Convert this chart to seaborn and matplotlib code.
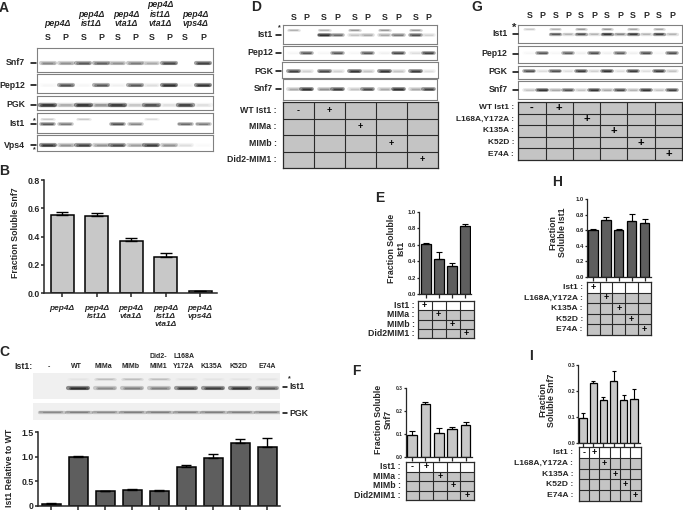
# plot.py - multi panel western blot / fraction soluble figure
import numpy as np
import pandas as pd
import seaborn as sns
import matplotlib.pyplot as plt
from matplotlib.colors import ListedColormap
from matplotlib.lines import Line2D

sns.set_style("white")
plt.rcParams["font.family"] = ["Liberation Sans", "DejaVu Sans"]
plt.rcParams["font.weight"] = "bold"
plt.rcParams["axes.labelweight"] = "bold"

W, H = 683, 512
LIGHT = "#c8c8c8"
DARK = "#5e5e5e"

# ---- bar data
b_labels = ["pep4Δ", "pep4Δ\nist1Δ", "pep4Δ\nvta1Δ", "pep4Δ\nist1Δ\nvta1Δ", "pep4Δ\nvps4Δ"]
b_vals = [0.555, 0.545, 0.37, 0.255, 0.015]
b_errs = [0.02, 0.02, 0.02, 0.028, 0.002]
c_labels = ["-", "WT", "MIMa", "MIMb", "Did2-\nMIM1", "L168A\nY172A", "K135A", "K52D", "E74A"]
c_vals = [0.04, 1.0, 0.29, 0.31, 0.30, 0.79, 0.98, 1.28, 1.19]
c_errs = [0.005, 0.005, 0.012, 0.02, 0.02, 0.04, 0.07, 0.08, 0.18]
e_vals = [0.61, 0.43, 0.345, 0.825]
e_errs = [0.005, 0.08, 0.03, 0.02]
f_vals = [0.095, 0.23, 0.105, 0.12, 0.14]
f_errs = [0.018, 0.01, 0.022, 0.012, 0.01]
h_vals = [0.605, 0.735, 0.60, 0.725, 0.695]
h_errs = [0.01, 0.03, 0.02, 0.08, 0.05]
i_vals = [0.095, 0.23, 0.165, 0.24, 0.165, 0.17]
i_errs = [0.018, 0.01, 0.012, 0.035, 0.018, 0.037]

# ---- blot band intensities per lane (0-1)
a_snf7 = [.45, .4, .7, .65, .4, .5, .3, .8, 0, .85]
a_pep12 = [.03, .75, .03, .7, .05, .7, .1, 1, .05, .95]
a_pgk = [1, .3, 1, .4, .95, .2, .8, .1, .9, .1]
a_ist1 = [.7, .5, 0, 0, .75, .45, 0, 0, .6, .5]
a_ist1_up = [.2, 0, .2, 0, 0, 0, .12, 0, 0, 0]
a_vps4 = [.95, .4, .85, .4, .8, .35, .9, .4, .1, .02]

d_ist1 = [0, 0, 1, .6, .2, .3, .3, .5, .75, .15]
d_ist1_up = [.3, 0, .3, 0, .4, 0, .4, 0, .4, 0]
d_pep12 = [.03, .7, .03, .7, .03, .7, .05, .8, .1, .85]
d_pgk = [.85, .15, .8, .15, .95, .2, .95, .2, .9, .1]
d_snf7 = [.3, 1, .4, .9, .2, .8, .3, 1, .3, .85]

g_ist1 = [0, 0, .7, .25, .75, .25, .95, .45, .9, .25, .85, .25]
g_ist1_up = [.2, 0, .3, 0, .4, 0, .4, 0, .35, 0, .35, 0]
g_pep12 = [.03, .7, .03, .65, .05, .75, .05, .65, .05, .75, .03, .75]
g_pgk = [.75, .1, .75, .1, .9, .15, .95, .1, .9, .1, .9, .2]
g_snf7 = [.2, .95, .3, .75, .2, .95, .3, .8, .25, .95, .2, .85]

c_ist1 = [0, 1, .4, .45, .45, .85, .85, .95, .65]
c_ist1_up = [0, .05, .2, .2, .2, .05, .05, .05, .05]
c_pgk = [.4, .45, .4, .45, .45, .45, .45, .45, .45]

# ---- tables
d_rows = ["WT Ist1 :", "MIMa :", "MIMb :", "Did2-MIM1 :"]
d_marks = [["-", "+", "", "", ""], ["", "", "+", "", ""], ["", "", "", "+", ""], ["", "", "", "", "+"]]
e_rows = ["Ist1 :", "MIMa :", "MIMb :", "Did2MIM1 :"]
e_marks = [["+", "", "", ""], ["", "+", "", ""], ["", "", "+", ""], ["", "", "", "+"]]
f_marks = [["-", "+", "", "", ""], ["", "", "+", "", ""], ["", "", "", "+", ""], ["", "", "", "", "+"]]
g_rows = ["WT Ist1 :", "L168A,Y172A :", "K135A :", "K52D :", "E74A :"]
g_marks = [["-", "+", "", "", "", ""], ["", "", "+", "", "", ""], ["", "", "", "+", "", ""],
           ["", "", "", "", "+", ""], ["", "", "", "", "", "+"]]
h_rows = ["Ist1 :", "L168A,Y172A :", "K135A :", "K52D :", "E74A :"]
h_marks = [["+", "", "", "", ""], ["", "+", "", "", ""], ["", "", "+", "", ""],
           ["", "", "", "+", ""], ["", "", "", "", "+"]]

fig = plt.figure(figsize=(W / 100, H / 100), dpi=100, facecolor="white")


def px_axes(x0, y0, x1, y1):
    return fig.add_axes([x0 / W, 1 - y1 / H, (x1 - x0) / W, (y1 - y0) / H])


def label(x, y, s, size=6.3, ha="center", va="center", **kw):
    fig.text(x / W, 1 - y / H, s, fontsize=size, ha=ha, va=va, **kw)


def dash(x0, x1, y, lw=1.1):
    fig.add_artist(Line2D([x0 / W, x1 / W], [1 - y / H] * 2, color="black", lw=lw))


def bar_panel(vals, errs, color, x0, x1, y_top, y_zero, ymax, first, step, width,
              yticks, tick_size, zero="0.0", lw=1.1, xlabels=None):
    ax = px_axes(x0, y_top, x1, y_zero)
    ax.patch.set_alpha(0)
    df = pd.DataFrame({"group": [str(i) for i in range(len(vals))], "value": vals})
    sns.barplot(data=df, x="group", y="value", color=color, saturation=1, width=width / step,
                edgecolor="black", linewidth=lw, ax=ax)
    ax.errorbar(range(len(vals)), vals, yerr=[np.zeros(len(vals)), errs], fmt="none",
                ecolor="black", elinewidth=lw * 0.9, capsize=width * 0.2, capthick=lw * 0.9, clip_on=False)
    ax.set_xlim((x0 - first) / step, (x1 - first) / step)
    ax.set_ylim(0, ymax)
    ax.set_xlabel("")
    ax.set_ylabel("")
    sns.despine(ax=ax)
    ax.spines["left"].set_linewidth(lw)
    ax.spines["bottom"].set_linewidth(lw)
    ax.set_yticks(yticks)
    ax.set_yticklabels(["%.1f" % t if t else zero for t in yticks], fontsize=tick_size)
    ax.tick_params(axis="y", left=True, length=tick_size * 0.4, width=lw, pad=0.5)
    ax.tick_params(axis="x", bottom=True, length=2.6, width=lw, pad=6)
    ax.set_xticks(range(len(vals)))
    if xlabels:
        ax.set_xticklabels(xlabels, fontsize=6, style="italic")
    else:
        ax.set_xticklabels([])
    return ax


def blot(x0, y0, x1, y1, lanes, bands, half, border=True, bg="white"):
    ax = px_axes(x0, y0, x1, y1)
    ax.set_facecolor(bg)
    ax.set_xlim(x0, x1)
    ax.set_ylim(y1, y0)
    ax.set_xticks([])
    ax.set_yticks([])
    for sp in ax.spines.values():
        sp.set_visible(border)
        sp.set_color("#808080")
        sp.set_linewidth(0.8)
    for yc, intens, thick in bands:
        for xc, v in zip(lanes, intens):
            if v <= 0:
                continue
            for f_len, f_lw in [(1.0, 1.0), (0.85, 0.65), (0.68, 0.35)]:
                ax.plot([xc - half * f_len, xc + half * f_len], [yc, yc], color="black",
                        lw=thick * f_lw, alpha=min(v, 1) * 0.42, solid_capstyle="round")
    return ax


def grid_table(x0, y0, x1, y1, rows, marks, top_white, pad, size=6.3, mark_size=6.5):
    ax = px_axes(x0, y0, x1, y1)
    shade = np.ones((len(rows), len(marks[0])))
    if top_white:
        shade[0, :] = 0
    sns.heatmap(shade, annot=np.array(marks), fmt="", cmap=ListedColormap(["white", "#c4c4c4"]),
                vmin=0, vmax=1, cbar=False, linewidths=0,
                xticklabels=False, yticklabels=rows, ax=ax,
                annot_kws={"fontsize": mark_size, "fontweight": "bold", "color": "black"})
    ax.hlines(range(1, len(rows)), 0, len(marks[0]), color="#2a2a2a", lw=0.8)
    ax.vlines(range(1, len(marks[0])), 0, len(rows), color="#2a2a2a", lw=0.8)
    ax.tick_params(axis="y", length=0, pad=pad, labelsize=size, labelrotation=0)
    for sp in ax.spines.values():
        sp.set_visible(True)
        sp.set_color("#2a2a2a")
        sp.set_linewidth(0.9)
    return ax


# panel letters
for s, x, y in [("A", 4, 8), ("B", 4, 171), ("C", 4, 352), ("D", 256, 7), ("E", 380, 198),
                ("F", 356, 371), ("G", 477, 7), ("H", 557, 182), ("I", 531, 356)]:
    label(x, y, s, size=10)

# ---- A
a_lanes = [47.7, 65.7, 83.3, 101.3, 117.3, 135.3, 151.3, 169, 185, 203]
blot(36.7, 48, 212.7, 72, a_lanes, [(62.5, a_snf7, 3)], 7)
blot(36.7, 74, 212.7, 93, a_lanes, [(85, a_pep12, 3)], 7)
blot(36.7, 96, 212.7, 110, a_lanes, [(104.5, a_pgk, 3.2)], 7.5)
blot(36.7, 113, 212.7, 133, a_lanes, [(123.5, a_ist1, 2.6), (118.5, a_ist1_up, 1.8)], 6.5)
blot(36.7, 135, 212.7, 151, a_lanes, [(145, a_vps4, 3)], 7)
a_heads = ["pep4Δ", "pep4Δ\nist1Δ", "pep4Δ\nvta1Δ", "pep4Δ\nist1Δ\nvta1Δ", "pep4Δ\nvps4Δ"]
for x, s in zip([57, 91.7, 126.7, 160, 195], a_heads):
    label(x, 28, s, va="bottom", style="italic", linespacing=1.05)
for x, s in zip(a_lanes, ["S", "P"] * 5):
    label(x, 37.7, s)
for s, y in [("Snf7", 62.5), ("Pep12", 85), ("PGK", 104.5), ("Ist1", 124), ("Vps4", 145)]:
    label(25, y, s, ha="right")
    dash(31, 35.5, y)
label(34, 121, "*", size=5)
label(34, 150, "*", size=5)

# ---- B
bar_panel(b_vals, b_errs, LIGHT, 44, 217, 180, 293.3, 0.8, 62, 34.5, 23,
          [0, 0.2, 0.4, 0.6, 0.8], 6.3, xlabels=b_labels)
label(16, 233, "Fraction Soluble Snf7", rotation=90)

# ---- C
c_lanes = [51 + 27 * i for i in range(9)]
blot(33, 373, 280, 399, c_lanes, [(387.7, c_ist1, 3), (379, c_ist1_up, 1.8)], 10, border=False, bg="#f0f0f0")
blot(33, 403, 280, 420, c_lanes, [(411.7, c_pgk, 2.4)], 12.5, border=False, bg="#f0f0f0")
bar_panel(c_vals, c_errs, DARK, 37.7, 280, 432, 505.7, 1.5, 51, 27, 19,
          [0, 0.5, 1.0, 1.5], 6.3, zero="0")
label(10, 467.7, "Ist1 Relative to WT", rotation=90)
label(33, 366.7, "Ist1:", ha="right")
for x, s in zip([48.7, 76.7, 103.7, 131, 158, 184, 211, 238, 267], c_labels):
    label(x, 370, s, size=5, va="bottom", linespacing=1.5)
dash(283, 287, 386.7)
dash(283, 287, 413)
label(289, 386.7, "Ist1", ha="left")
label(289, 413, "PGK", ha="left")
label(289, 379, "*", size=5)

# ---- D
d_lanes = [293.3, 306.7, 324, 337.3, 354.3, 367.7, 384.7, 398, 415.3, 428.7]
blot(282.7, 25, 437.3, 44, d_lanes, [(34.5, d_ist1, 2.6), (29.5, d_ist1_up, 1.8)], 5.5)
blot(282.7, 46, 437.3, 60, d_lanes, [(52.5, d_pep12, 2.6)], 5.5)
blot(281.7, 62, 438, 78, d_lanes, [(71, d_pgk, 2.8)], 5.5)
blot(282.7, 79, 437.3, 100, d_lanes, [(88.5, d_snf7, 2.8)], 5.5)
for x, s in zip(d_lanes, ["S", "P"] * 5):
    label(x, 17, s)
for s, y in [("Ist1", 34.5), ("Pep12", 52.5), ("PGK", 71), ("Snf7", 88.5)]:
    label(273, y, s, ha="right")
    dash(275.5, 281, y)
label(279, 28, "*", size=5)
grid_table(283, 102, 438, 168, d_rows, d_marks, False, 4.5)

# ---- E
bar_panel(e_vals, e_errs, DARK, 419, 471, 211.7, 294, 1.0, 426, 13, 9.5,
          [0, 0.2, 0.4, 0.6, 0.8, 1.0], 4.2, lw=0.9)
label(396, 248, "Fraction Soluble\nIst1", rotation=90, linespacing=1.0)
grid_table(417.7, 300.7, 473.7, 338.3, e_rows, e_marks, True, 2)

# ---- F
bar_panel(f_vals, f_errs, LIGHT, 405.7, 472, 387.7, 457, 0.3, 412, 13.4, 9.5,
          [0, 0.1, 0.2, 0.3], 3.5, lw=0.9)
label(383.5, 419, "Fraction Soluble\nSnf7", rotation=90, linespacing=1.0)
grid_table(405.7, 462, 474, 500, e_rows, f_marks, True, 3.5)

# ---- G
g_lanes = [450 + v / 3 for v in [238, 277, 316, 354, 393, 432, 471, 510, 549, 588, 627, 666]]
blot(518.3, 25, 681.7, 43, g_lanes, [(33.5, g_ist1, 2.4), (28.5, g_ist1_up, 1.8)], 5)
blot(518.3, 45.7, 681.7, 63, g_lanes, [(53, g_pep12, 2.6)], 5)
blot(518.3, 65.7, 681.7, 79, g_lanes, [(71.5, g_pgk, 2.6)], 5)
blot(518.3, 81, 681.7, 99, g_lanes, [(90, g_snf7, 2.6)], 5)
for x, s in zip(g_lanes, ["S", "P"] * 6):
    label(x, 16, s)
for s, y in [("Ist1", 34), ("Pep12", 54), ("PGK", 71.5), ("Snf7", 90)]:
    label(507.5, y, s, ha="right")
    dash(513, 518, y)
label(514.5, 28, "*", size=8)
grid_table(518.3, 102, 682, 160, g_rows, g_marks, False, 3, size=6, mark_size=8)

# ---- H
bar_panel(h_vals, h_errs, DARK, 586.7, 650.7, 199.3, 276.7, 1.0, 593, 12.9, 9.3,
          [0, 0.2, 0.4, 0.6, 0.8, 1.0], 4.2, lw=0.9)
label(557.7, 232.7, "Fraction\nSoluble Ist1", rotation=90, linespacing=1.0)
grid_table(587, 282, 650.7, 335, h_rows, h_marks, True, 3, size=6.1)

# ---- I
bar_panel(i_vals, i_errs, LIGHT, 578, 640, 365, 442.7, 0.3, 583, 10.2, 7.3,
          [0, 0.1, 0.2, 0.3], 4, lw=0.9)
label(547, 400, "Fraction\nSoluble Snf7", rotation=90, linespacing=1.0)
grid_table(578.7, 447, 640.7, 501, h_rows, g_marks, True, 4, size=6.1)

fig.savefig("out.png", dpi=100)
plt.close(fig)
